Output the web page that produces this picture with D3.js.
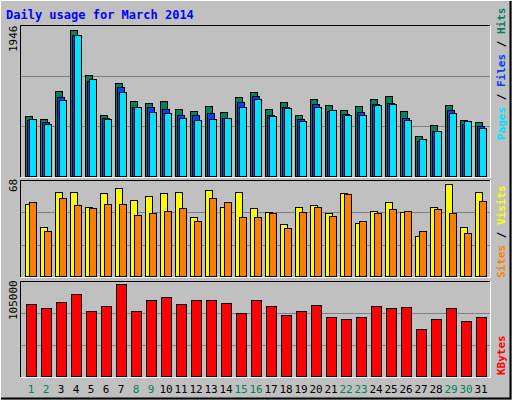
<!DOCTYPE html>
<html><head><meta charset="utf-8">
<script src="https://cdn.jsdelivr.net/npm/d3@7"></script>
<style>body{margin:0;background:#fff}</style></head>
<body><div id="chart"></div>
<script>
// Data
const days = d3.range(1, 32);
const weekend = [1, 2, 8, 9, 15, 16, 22, 23, 29, 30];
const hits  = [810,770,1140,1946,1352,823,1246,1008,982,1008,903,876,942,863,1061,1127,903,995,823,1035,955,889,942,1035,1074,876,546,691,955,757,731];
const files = [757,731,1061,1880,1272,784,1193,929,929,903,823,823,850,784,995,1074,823,929,770,969,876,837,863,969,982,784,480,612,889,704,678];
const pages = [770,704,1021,1867,1299,770,1127,929,863,850,784,757,770,784,929,1035,810,916,744,929,889,823,823,955,969,757,506,612,850,744,652];
const visits = [53.2,36.2,62.1,62.1,51,61.4,65,56.2,59.1,61.4,62.1,43.6,63.6,51,62.1,50.3,47.3,38.4,51,52.5,46.6,61.4,39.2,48,54.7,47.3,30.3,51,68,36.2,62.1];
const sites  = [54.7,33.3,57.7,52.5,50.3,53.2,53.2,45.1,46.6,48,50.3,40.7,57.7,54.7,43.6,43.6,46.6,35.5,47.3,51,44.4,60.6,40.7,46.6,49.5,48,34,49.5,46.6,32.5,55.4];
const kbytes = [82000,77400,84300,93500,74000,79700,105000,74000,86600,90100,82000,86600,86600,83200,72800,86600,79700,70500,74000,80900,68200,65900,68200,79700,77400,78600,54400,65900,77400,63600,68200];

const W = 512, H = 400;
const svg = d3.select("#chart").append("svg").attr("width", W).attr("height", H)
  .style("font-family", "'DejaVu Sans Mono', monospace");

// background + frame
svg.append("rect").attr("width", W).attr("height", H).attr("fill", "#c0c0c0");
svg.append("path").attr("d", `M0.5,${H-0.5}V0.5H${W-0.5}`).attr("stroke", "#fff").attr("fill", "none");
svg.append("path").attr("d", `M1,${H-1.5}H${W-1.5}V1`).attr("stroke", "#000").attr("stroke-width", 2).attr("fill", "none");

svg.append("text").attr("x", 6).attr("y", 19).attr("fill", "#0000ff")
  .attr("font-size", 12).attr("font-weight", "bold").text("Daily usage for March 2014");

const x = d3.scaleBand().domain(days).range([21, 486]).paddingInner(0);

function panel(top, bottom, max, maxTop) {
  svg.append("rect").attr("x", 20).attr("y", top).attr("width", 471).attr("height", bottom - top)
    .attr("fill", "#c0c0c0");
  svg.append("path").attr("d", `M20.5,${bottom}V${top+0.5}H491`).attr("stroke", "#000").attr("fill", "none");
  svg.append("path").attr("d", `M20.5,${bottom+0.5}H490.5V${top}`).attr("stroke", "#fff").attr("fill", "none");
  const h = bottom - top;
  [1/3, 2/3].forEach(f => svg.append("line").attr("x1", 21).attr("x2", 490)
    .attr("y1", Math.round(bottom - h * f) + 0.5).attr("y2", Math.round(bottom - h * f) + 0.5)
    .attr("stroke", "#808080"));
  return d3.scaleLinear().domain([0, max]).range([bottom, maxTop]);
}

function bars(vals, y, color, off, w) {
  svg.append("g").selectAll("rect").data(vals).join("rect")
    .attr("x", (d, i) => x(days[i]) + off + 0.5)
    .attr("y", d => Math.round(y(d)) + 0.5)
    .attr("width", w)
    .attr("height", d => y(0) - Math.round(y(d)) - 1)
    .attr("fill", color).attr("stroke", "#000");
}

// top panel
const y1 = panel(25, 177, 1946, 29.5);
bars(hits, y1, "#00805c", 4, 7);
bars(files, y1, "#0040ff", 6, 7);
bars(pages, y1, "#00e0ff", 8, 7);

// middle panel
const y2 = panel(180, 277, 68, 184);
bars(visits, y2, "#ffff00", 4, 7);
bars(sites, y2, "#ff8000", 8, 7);

// bottom panel
const y3 = panel(281, 377, 105000, 284);
bars(kbytes, y3, "#ff0000", 5, 10);

// left max labels
function leftLabel(txt, yy) {
  svg.append("text").attr("transform", `translate(17,${yy}) rotate(-90)`)
    .attr("font-size", 11).attr("fill", "#000").text(txt);
}
leftLabel("1946", 52);
leftLabel("68", 192);
leftLabel("105000", 320);

// right legends
function rightLegend(parts, yy) {
  const t = svg.append("text").attr("transform", `translate(505,${yy}) rotate(-90)`)
    .attr("font-size", 11).attr("font-weight", "bold");
  parts.forEach(([s, c]) => t.append("tspan").attr("fill", c).text(s));
}
rightLegend([["Pages", "#00e0ff"], [" / ", "#000"], ["Files", "#0040ff"], [" / ", "#000"], ["Hits", "#00805c"]], 140);
rightLegend([["Sites", "#ff8000"], [" / ", "#000"], ["Visits", "#ffff00"]], 278);
rightLegend([["KBytes", "#ff0000"]], 375);

// day labels
svg.append("g").selectAll("text").data(days).join("text")
  .attr("x", d => x(d) + 10).attr("y", 393)
  .attr("text-anchor", "middle").attr("font-size", 11)
  .attr("fill", d => weekend.includes(d) ? "#00805c" : "#000")
  .text(d => d);
</script></body></html>
